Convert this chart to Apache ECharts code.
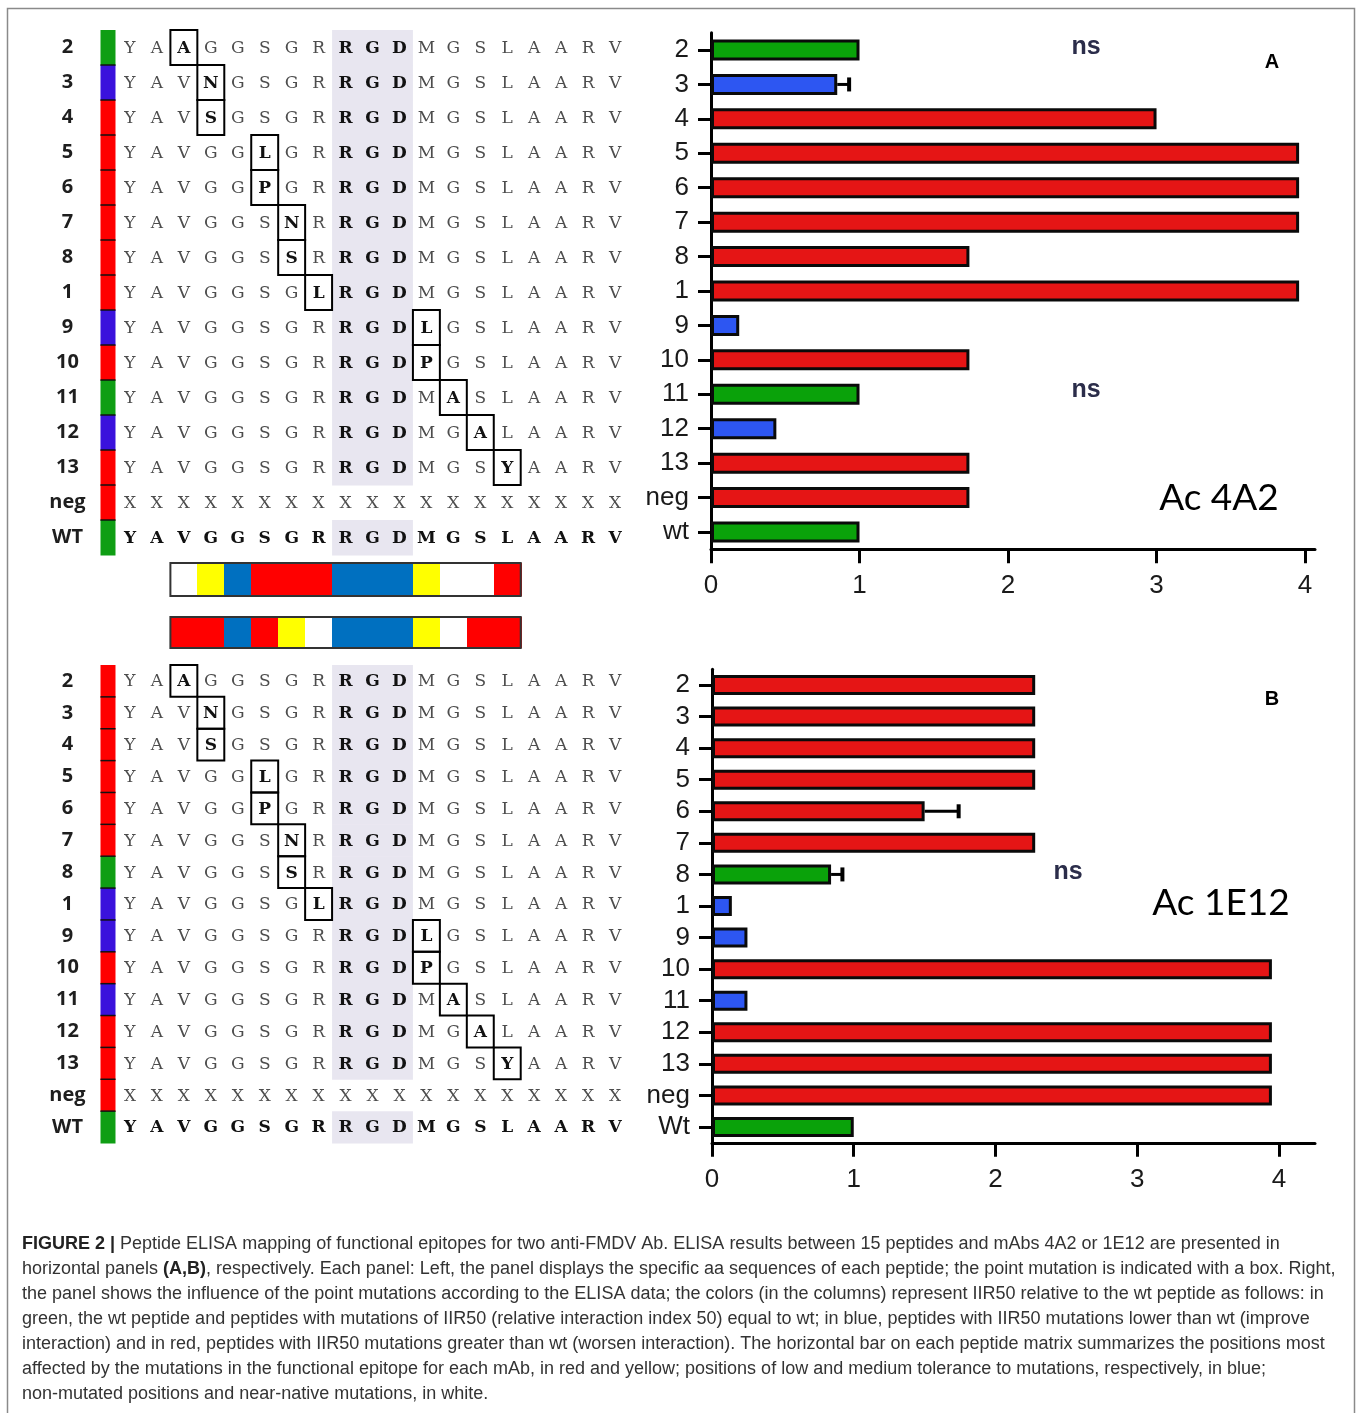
<!DOCTYPE html>
<html>
<head>
<meta charset="utf-8">
<script src="https://cdn.jsdelivr.net/npm/echarts@6/dist/echarts.min.js"></script>
<style>
  html, body { margin: 0; padding: 0; background: #fff; }
  #chart { width: 1358px; height: 1413px; }
</style>
</head>
<body>
<div id="chart"></div>
<script>
// peptide rows (same order in both panels)
var peptideRows = ['2', '3', '4', '5', '6', '7', '8', '1', '9', '10', '11', '12', '13', 'neg', 'WT'];
var barRowsA = ['2', '3', '4', '5', '6', '7', '8', '1', '9', '10', '11', '12', '13', 'neg', 'wt'];
var barRowsB = ['2', '3', '4', '5', '6', '7', '8', '1', '9', '10', '11', '12', '13', 'neg', 'Wt'];

// wt sequence and point mutations (rows 0..12)
var wtSequence = ['Y', 'A', 'V', 'G', 'G', 'S', 'G', 'R', 'R', 'G', 'D', 'M', 'G', 'S', 'L', 'A', 'A', 'R', 'V'];
var mutationPos = [2, 3, 3, 5, 5, 6, 6, 7, 11, 11, 12, 13, 14];
var mutationAa = ['A', 'N', 'S', 'L', 'P', 'N', 'S', 'L', 'L', 'P', 'A', 'A', 'Y'];
var motifCols = [8, 9, 10]; // RGD

// IIR50 relative to wt
var iir50A = [1.0, 0.85, 3.0, 3.96, 3.96, 3.96, 1.74, 3.96, 0.19, 1.74, 1.0, 0.44, 1.74, 1.74, 1.0];
var errA = [null, 0.93, null, null, null, null, null, null, null, null, null, null, null, null, null];
var classA = ['g', 'b', 'r', 'r', 'r', 'r', 'r', 'r', 'b', 'r', 'g', 'b', 'r', 'r', 'g'];

var iir50B = [2.28, 2.28, 2.28, 2.28, 1.5, 2.28, 0.84, 0.14, 0.25, 3.95, 0.25, 3.95, 3.95, 3.95, 1.0];
var errB = [null, null, null, null, 1.74, null, 0.92, null, null, null, null, null, null, null, null];
var classB = ['r', 'r', 'r', 'r', 'r', 'r', 'g', 'b', 'b', 'r', 'b', 'r', 'r', 'r', 'g'];

// summary bar, positions 2..14
var summaryStart = 2;
var summaryA = ['w', 'y', 'b', 'r', 'r', 'r', 'b', 'b', 'b', 'y', 'w', 'w', 'r'];
var summaryB = ['r', 'r', 'b', 'r', 'y', 'w', 'b', 'b', 'b', 'y', 'w', 'r', 'r'];

var xTicks = [0, 1, 2, 3, 4];

var stripColors = { g: '#0f9e14', b: '#3a12dc', r: '#ff0000' };
var barColors = { g: '#0aa20a', b: '#2d56f2', r: '#e51515' };
var summaryColors = { w: '#ffffff', y: '#ffff00', b: '#0070c0', r: '#ff0000' };

var myChart = echarts.init(document.getElementById('chart'));

function buildCells() {
  var cells = [];
  for (var r = 0; r < peptideRows.length; r++) {
    for (var c = 0; c < wtSequence.length; c++) {
      var name = peptideRows[r];
      var aa = wtSequence[c], kind = 0, boxed = 0;
      if (name === 'neg') {
        aa = 'X';
      } else if (name === 'WT') {
        kind = 2;
      } else {
        if (motifCols.indexOf(c) >= 0) kind = 1;
        if (mutationPos[r] === c) { aa = mutationAa[r]; kind = 1; boxed = 1; }
      }
      cells.push({ value: [c, r], aa: aa, kind: kind, boxed: boxed });
    }
  }
  return cells;
}
var cells = buildCells();

function renderLetters(params, api) {
  var cell = cells[params.dataIndex];
  var p = api.coord([api.value(0), api.value(1)]);
  var cw = api.size([1, 0])[0];
  var rh = api.size([0, 1])[1];
  var children = [];
  if (cell.boxed) {
    children.push({
      type: 'rect',
      shape: { x: p[0] - cw / 2, y: p[1] - rh / 2, width: cw, height: rh },
      style: { fill: null, stroke: '#000', lineWidth: 2 }
    });
  }
  children.push({
    type: 'text', x: p[0], y: p[1] + 1,
    style: {
      text: cell.aa, align: 'center', verticalAlign: 'middle',
      fontFamily: 'DejaVu Serif', fontSize: 17,
      fontWeight: cell.kind ? 'bold' : 'normal',
      fill: cell.kind ? '#111' : '#4d4d4d'
    }
  });
  return { type: 'group', children: children };
}

function highlightRows() {
  var rows = [];
  for (var r = 0; r < peptideRows.length; r++) {
    if (peptideRows[r] !== 'neg') rows.push([motifCols[0], r]);
  }
  return rows;
}

function renderHighlight(params, api) {
  var r = api.value(1);
  var a = api.coord([motifCols[0] - 0.5, r]);
  var b = api.coord([motifCols[motifCols.length - 1] + 0.5, r]);
  var rh = api.size([0, 1])[1];
  return {
    type: 'rect',
    shape: { x: a[0], y: a[1] - rh / 2, width: b[0] - a[0], height: rh + 0.5 },
    style: { fill: '#e8e6f0' }
  };
}

function renderStrip(classes) {
  return function (params, api) {
    var r = api.value(0);
    var p = api.coord([-0.5, r]);
    var rh = api.size([0, 1])[1];
    var x0 = p[0] - 16;
    var children = [{
      type: 'rect',
      shape: { x: x0, y: p[1] - rh / 2, width: 15, height: rh + 0.5 },
      style: { fill: stripColors[classes[r]] }
    }];
    if (r > 0) {
      children.push({
        type: 'line',
        shape: { x1: x0, y1: p[1] - rh / 2, x2: x0 + 15, y2: p[1] - rh / 2 },
        style: { stroke: '#111', lineWidth: 1.5 }
      });
    }
    return { type: 'group', children: children };
  };
}

function renderSummary(list) {
  return function (params, api) {
    var i = params.dataIndex;
    var a = api.coord([api.value(0) - 0.5, 0]);
    var b = api.coord([api.value(0) + 0.5, 0]);
    var h = api.size([0, 1])[1];
    return {
      type: 'rect',
      shape: { x: Math.round(a[0]), y: a[1] - h / 2, width: Math.round(b[0]) - Math.round(a[0]) + 1, height: h },
      style: { fill: summaryColors[list[i]], stroke: null }
    };
  };
}

function renderSummaryFrame(params, api) {
  var a = api.coord([api.value(0), 0]);
  var b = api.coord([api.value(1), 0]);
  var h = api.size([0, 1])[1];
  return {
    type: 'rect',
    shape: { x: a[0], y: a[1] - h / 2, width: b[0] - a[0], height: h },
    style: { fill: null, stroke: '#333', lineWidth: 2 }
  };
}

function renderError(params, api) {
  var cat = api.value(1);
  var a = api.coord([api.value(2), cat]);
  var b = api.coord([api.value(0), cat]);
  return {
    type: 'group',
    children: [
      { type: 'line', shape: { x1: a[0], y1: a[1], x2: b[0], y2: b[1] }, style: { stroke: '#000', lineWidth: 3 } },
      { type: 'line', shape: { x1: b[0], y1: b[1] - 7, x2: b[0], y2: b[1] + 7 }, style: { stroke: '#000', lineWidth: 4 } }
    ]
  };
}

function barData(values, classes) {
  return values.map(function (v, i) {
    return { value: v, itemStyle: { color: barColors[classes[i]] } };
  });
}

function errData(values, errs) {
  var out = [];
  errs.forEach(function (e, i) {
    if (e != null) out.push([e, i, values[i]]);
  });
  return out;
}

function summaryData(list) {
  return list.map(function (c, i) { return [summaryStart + i, 0]; });
}

var hiddenValueAxis = function (gi) {
  return { type: 'value', gridIndex: gi, min: -0.5, max: 18.5, show: false };
};

var barValueAxis = function (gi, max) {
  return {
    type: 'value', gridIndex: gi, min: 0, max: max,
    axisLine: { show: true, onZero: false, lineStyle: { color: '#000', width: 3 } },
    axisTick: { show: true, customValues: xTicks, length: 14, lineStyle: { color: '#000', width: 3 } },
    axisLabel: { customValues: xTicks, fontFamily: 'Liberation Sans', fontSize: 26, color: '#1a1a1a', margin: 24 },
    splitLine: { show: false }
  };
};

var barCategoryAxis = function (gi, rows) {
  return {
    type: 'category', gridIndex: gi, data: rows, inverse: true,
    axisLine: { show: true, lineStyle: { color: '#000', width: 3 } },
    axisTick: { show: true, alignWithLabel: true, interval: 0, length: 13, lineStyle: { color: '#000', width: 3 } },
    axisLabel: { interval: 0, fontFamily: 'Liberation Sans', fontSize: 26, color: '#1a1a1a', margin: 22 }
  };
};

var matrixCategoryAxis = function (gi) {
  return {
    type: 'category', gridIndex: gi, data: peptideRows, inverse: true,
    axisLine: { show: false }, axisTick: { show: false },
    axisLabel: { interval: 0, fontFamily: 'Open Sans', fontWeight: 'bold', fontSize: 20, color: '#1e1e1e', align: 'center', margin: 49 }
  };
};

var hiddenCategoryAxis = function (gi) {
  return { type: 'category', gridIndex: gi, data: ['s'], show: false };
};

var caption =
  '{b|FIGURE 2 |} Peptide ELISA mapping of functional epitopes for two anti-FMDV Ab. ELISA results between 15 peptides and mAbs 4A2 or 1E12 are presented in\n' +
  'horizontal panels {b|(A,B)}, respectively. Each panel: Left, the panel displays the specific aa sequences of each peptide; the point mutation is indicated with a box. Right,\n' +
  'the panel shows the influence of the point mutations according to the ELISA data; the colors (in the columns) represent IIR50 relative to the wt peptide as follows: in\n' +
  'green, the wt peptide and peptides with mutations of IIR50 (relative interaction index 50) equal to wt; in blue, peptides with IIR50 mutations lower than wt (improve\n' +
  'interaction) and in red, peptides with IIR50 mutations greater than wt (worsen interaction). The horizontal bar on each peptide matrix summarizes the positions most\n' +
  'affected by the mutations in the functional epitope for each mAb, in red and yellow; positions of low and medium tolerance to mutations, respectively, in blue;\n' +
  'non-mutated positions and near-native mutations, in white.';

var option = {
  animation: false,
  backgroundColor: '#fff',
  grid: [
    { left: 116.5, top: 30, width: 512, height: 525 },      // matrix A
    { left: 711, top: 32.8, width: 604, height: 516.4 },    // bars A
    { left: 116.5, top: 563, width: 512, height: 33 },      // summary A
    { left: 116.5, top: 617, width: 512, height: 31 },      // summary B
    { left: 116.5, top: 665, width: 512, height: 478 },     // matrix B
    { left: 712, top: 669.2, width: 603, height: 473.6 }    // bars B
  ],
  xAxis: [
    hiddenValueAxis(0),
    barValueAxis(1, 4.067),
    hiddenValueAxis(2),
    hiddenValueAxis(3),
    hiddenValueAxis(4),
    barValueAxis(5, 4.254)
  ],
  yAxis: [
    matrixCategoryAxis(0),
    barCategoryAxis(1, barRowsA),
    hiddenCategoryAxis(2),
    hiddenCategoryAxis(3),
    matrixCategoryAxis(4),
    barCategoryAxis(5, barRowsB)
  ],
  series: [
    // panel A matrix
    { type: 'custom', xAxisIndex: 0, yAxisIndex: 0, z: 1, renderItem: renderHighlight, data: highlightRows() },
    { type: 'custom', xAxisIndex: 0, yAxisIndex: 0, z: 2, renderItem: renderStrip(classA),
      data: classA.map(function (c, i) { return [i, i]; }), encode: { x: -1, y: 0 } },
    { type: 'custom', xAxisIndex: 0, yAxisIndex: 0, z: 3, renderItem: renderLetters,
      data: cells.map(function (d) { return d.value; }) },
    // panel A bars
    { type: 'bar', xAxisIndex: 1, yAxisIndex: 1, barWidth: 21, data: barData(iir50A, classA),
      itemStyle: { borderColor: '#0a0a0a', borderWidth: 3 } },
    { type: 'custom', xAxisIndex: 1, yAxisIndex: 1, z: 4, renderItem: renderError, data: errData(iir50A, errA) },
    // summary bars
    { type: 'custom', xAxisIndex: 2, yAxisIndex: 2, renderItem: renderSummary(summaryA), data: summaryData(summaryA) },
    { type: 'custom', xAxisIndex: 2, yAxisIndex: 2, z: 4, renderItem: renderSummaryFrame,
      data: [[summaryStart - 0.5, summaryStart + summaryA.length - 0.5]] },
    { type: 'custom', xAxisIndex: 3, yAxisIndex: 3, renderItem: renderSummary(summaryB), data: summaryData(summaryB) },
    { type: 'custom', xAxisIndex: 3, yAxisIndex: 3, z: 4, renderItem: renderSummaryFrame,
      data: [[summaryStart - 0.5, summaryStart + summaryB.length - 0.5]] },
    // panel B matrix
    { type: 'custom', xAxisIndex: 4, yAxisIndex: 4, z: 1, renderItem: renderHighlight, data: highlightRows() },
    { type: 'custom', xAxisIndex: 4, yAxisIndex: 4, z: 2, renderItem: renderStrip(classB),
      data: classB.map(function (c, i) { return [i, i]; }), encode: { x: -1, y: 0 } },
    { type: 'custom', xAxisIndex: 4, yAxisIndex: 4, z: 3, renderItem: renderLetters,
      data: cells.map(function (d) { return d.value; }) },
    // panel B bars
    { type: 'bar', xAxisIndex: 5, yAxisIndex: 5, barWidth: 20, data: barData(iir50B, classB),
      itemStyle: { borderColor: '#0a0a0a', borderWidth: 3 } },
    { type: 'custom', xAxisIndex: 5, yAxisIndex: 5, z: 4, renderItem: renderError, data: errData(iir50B, errB) }
  ],
  graphic: [
    { type: 'rect', shape: { x: 7.5, y: 8.5, width: 1347, height: 1430 },
      style: { fill: null, stroke: '#8a8a8a', lineWidth: 1.5 }, silent: true },
    { type: 'text', x: 1086, y: 47, style: { text: 'ns', align: 'center', verticalAlign: 'middle', fontFamily: 'Liberation Sans', fontWeight: 'bold', fontSize: 25, fill: '#2b2d4a' } },
    { type: 'text', x: 1086, y: 390, style: { text: 'ns', align: 'center', verticalAlign: 'middle', fontFamily: 'Liberation Sans', fontWeight: 'bold', fontSize: 25, fill: '#2b2d4a' } },
    { type: 'text', x: 1068, y: 872, style: { text: 'ns', align: 'center', verticalAlign: 'middle', fontFamily: 'Liberation Sans', fontWeight: 'bold', fontSize: 25, fill: '#2b2d4a' } },
    { type: 'text', x: 1272, y: 62, style: { text: 'A', align: 'center', verticalAlign: 'middle', fontFamily: 'Liberation Sans', fontWeight: 'bold', fontSize: 20, fill: '#000' } },
    { type: 'text', x: 1272, y: 699, style: { text: 'B', align: 'center', verticalAlign: 'middle', fontFamily: 'Liberation Sans', fontWeight: 'bold', fontSize: 20, fill: '#000' } },
    { type: 'text', x: 1219, y: 498, style: { text: 'Ac 4A2', align: 'center', verticalAlign: 'middle', fontFamily: 'Lato', fontSize: 37, fill: '#000' } },
    { type: 'text', x: 1221, y: 903, style: { text: 'Ac 1E12', align: 'center', verticalAlign: 'middle', fontFamily: 'Lato', fontSize: 37, fill: '#000' } },
    { type: 'text', x: 22, y: 1231.5,
      style: {
        text: caption, fontFamily: 'Liberation Sans', fontSize: 18, lineHeight: 25, fill: '#333',
        rich: { b: { fontFamily: 'Liberation Sans', fontSize: 18, lineHeight: 25, fontWeight: 'bold', fill: '#222' } }
      } }
  ]
};

myChart.setOption(option);
</script>
</body>
</html>
